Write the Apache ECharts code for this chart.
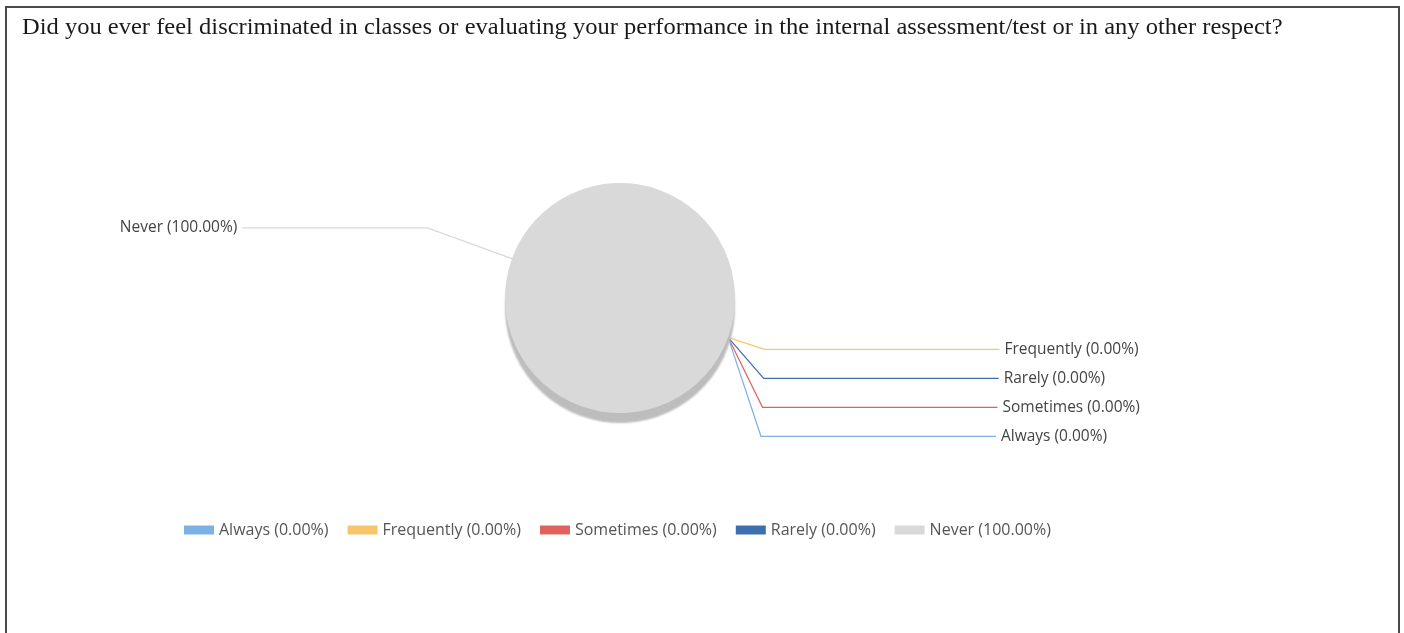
<!DOCTYPE html>
<html>
<head>
<meta charset="utf-8">
<script src="https://cdn.jsdelivr.net/npm/echarts@6/dist/echarts.min.js"></script>
<style>
html, body { margin: 0; padding: 0; background: #fff; }
#frame { position: absolute; left: 5px; top: 6px; width: 1391px; height: 680px; border: 2px solid #4a4a4a; }
#chart { position: absolute; left: 0; top: 0; width: 1404px; height: 633px; }
</style>
</head>
<body>
<div id="frame"></div>
<div id="chart"></div>
<script>
// answers and their share of responses (%)
const questionTitle = 'Did you ever feel discriminated in classes or evaluating your performance in the internal assessment/test or in any other respect?';
const categories = ['Always', 'Frequently', 'Sometimes', 'Rarely', 'Never'];
const percents = [0, 0, 0, 0, 100];
// order the slices are laid out in the pie (labels stack in this order)
const sliceOrder = ['Frequently', 'Rarely', 'Sometimes', 'Always', 'Never'];
const palette = {
    Always: '#7cb1e6',
    Frequently: '#f8c66a',
    Sometimes: '#e0625e',
    Rarely: '#3e6eae',
    Never: '#d9d9d9'
};

const chart = echarts.init(document.getElementById('chart'));

function valueOf(name) {
    return percents[categories.indexOf(name)];
}
function labelText(name) {
    return name + ' (' + valueOf(name).toFixed(2) + '%)';
}

const pieData = sliceOrder.map(function (c) {
    const item = { name: c, value: valueOf(c), itemStyle: { color: palette[c] } };
    if (valueOf(c) > 0) {
        // the big slice's label sits further up on the left
        item.labelLine = { length: 90, length2: 185 };
    }
    return item;
});

const option = {
    animation: false,
    graphic: [
        {
            type: 'text',
            left: 22,
            top: 17,
            scaleX: 1.09,
            style: {
                text: questionTitle,
                font: '22.5px "Liberation Serif"',
                fill: '#1a1a1a'
            }
        }
    ],
    legend: {
        data: categories,
        left: 179,
        top: 517,
        icon: 'rect',
        itemWidth: 30,
        itemHeight: 9,
        itemGap: 19,
        formatter: labelText,
        textStyle: {
            fontFamily: 'Open Sans',
            fontSize: 16,
            color: '#555'
        }
    },
    series: [
        {
            type: 'pie',
            center: [620, 298],
            radius: 115,
            startAngle: -20,
            clockwise: true,
            avoidLabelOverlap: true,
            itemStyle: {
                borderWidth: 0,
                shadowColor: '#bdbdbd',
                shadowOffsetY: 10,
                shadowBlur: 2
            },
            label: {
                formatter: function (p) { return labelText(p.name); },
                fontFamily: 'Open Sans',
                fontSize: 15.5,
                lineHeight: 27,
                color: '#444'
            },
            labelLine: {
                length: 35,
                length2: 235,
                lineStyle: { width: 1.2 }
            },
            data: pieData
        }
    ]
};
option && chart.setOption(option);
</script>
</body>
</html>
